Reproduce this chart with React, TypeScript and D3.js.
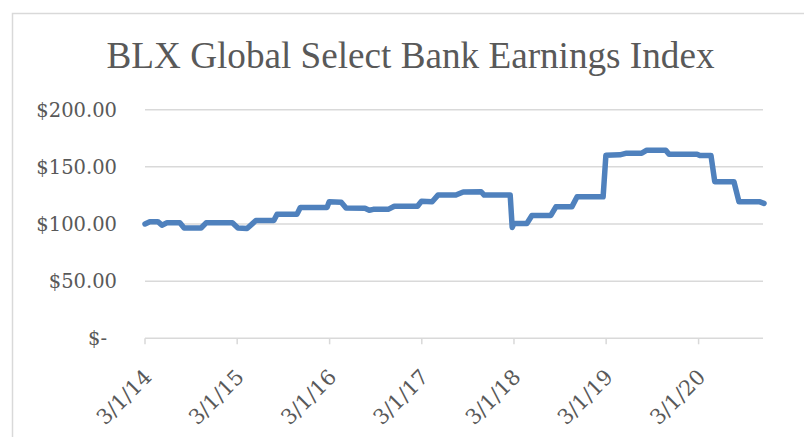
import React from "react";
import * as d3 from "d3";

const title = "BLX Global Select Bank Earnings Index";

const dates = [
  "2014-03-01", "2014-03-20", "2014-04-21", "2014-05-07", "2014-05-27", "2014-07-17",
  "2014-08-03", "2014-10-09", "2014-10-29", "2015-02-10", "2015-03-04", "2015-04-09",
  "2015-05-14", "2015-07-24", "2015-08-06", "2015-10-24", "2015-11-06", "2016-02-20",
  "2016-02-28", "2016-04-16", "2016-05-05", "2016-07-19", "2016-08-05", "2016-08-21",
  "2016-10-19", "2016-11-12", "2017-02-12", "2017-02-28", "2017-04-11", "2017-05-04",
  "2017-07-14", "2017-08-12", "2017-10-22", "2017-11-03", "2018-02-14", "2018-02-22",
  "2018-03-01", "2018-04-21", "2018-05-11", "2018-07-25", "2018-08-14", "2018-10-16",
  "2018-11-06", "2019-02-17", "2019-02-28", "2019-04-24", "2019-05-21", "2019-07-20",
  "2019-08-09", "2019-10-23", "2019-11-05", "2020-02-24", "2020-03-06", "2020-04-19",
  "2020-05-04", "2020-07-19", "2020-08-08", "2020-10-30", "2020-11-15",
];

const values = [
  100, 102, 102, 99, 101, 101,
  96.5, 96.5, 101, 101, 96.5, 96,
  103, 103, 108.6, 108.6, 114.5, 114.5,
  119.4, 119, 114, 113.8, 112, 112.8,
  112.8, 115.5, 115.5, 120, 119.5, 125.3,
  125.3, 128, 128.2, 125.3, 125.3, 97,
  100.5, 100.5, 107.5, 107.5, 115, 115,
  123.8, 123.8, 160.2, 160.5, 162, 162,
  164.6, 164.6, 161.1, 161.1, 160, 160,
  137, 137, 119.4, 119.4, 118,
];

const yTicks = [0, 50, 100, 150, 200];
const yTickLabels = ["$-", "$50.00", "$100.00", "$150.00", "$200.00"];
const xTickDates = ["2014-03-01", "2015-03-01", "2016-03-01", "2017-03-01", "2018-03-01", "2019-03-01", "2020-03-01"];
const xTickLabels = ["3/1/14", "3/1/15", "3/1/16", "3/1/17", "3/1/18", "3/1/19", "3/1/20"];

const W = 804;
const H = 437;
const left = 145;
const right = 764;
const top = 109.7;
const bottom = 338.3;

export default function App() {
  const parse = d3.timeParse("%Y-%m-%d");
  const data = dates.map((d, i) => ({ date: parse(d) as Date, value: values[i] }));
  const x = d3
    .scaleTime()
    .domain([parse(dates[0]) as Date, parse(dates[dates.length - 1]) as Date])
    .range([left, right]);
  const y = d3.scaleLinear().domain([0, 200]).range([bottom, top]);
  const line = d3
    .line<{ date: Date; value: number }>()
    .x((d) => x(d.date))
    .y((d) => y(d.value));

  const textColor = "#595959";
  const gridColor = "#d9d9d9";

  return (
    <svg
      width={W}
      height={H}
      style={{ position: "absolute", left: 0, top: 0, background: "#fff" }}
    >
      <rect x={12.5} y={13.5} width={900} height={500} fill="#fff" stroke={gridColor} strokeWidth={1.5} />
      <text
        x={106.5}
        y={68.3}
        fontFamily="'Liberation Serif', serif"
        fontSize={38}
        fill={textColor}
        textLength={608}
        lengthAdjust="spacingAndGlyphs"
      >
        {title}
      </text>
      {yTicks.map((t, i) => (
        <g key={t}>
          <line x1={left} x2={763} y1={y(t)} y2={y(t)} stroke={gridColor} strokeWidth={1.5} />
          <text
            x={t === 0 ? 107 : 117}
            y={y(t)}
            dy="0.36em"
            textAnchor="end"
            fontFamily="'DejaVu Serif', serif"
            fontSize={19.5}
            fill={textColor}
          >
            {yTickLabels[i]}
          </text>
        </g>
      ))}
      {xTickDates.map((d, i) => {
        const xx = x(parse(d) as Date);
        return (
          <g key={d}>
            <line x1={xx} x2={xx} y1={bottom} y2={bottom + 6} stroke={gridColor} strokeWidth={1.5} />
            <text
              transform={`translate(${xx + 8},${bottom + 40}) rotate(-45)`}
              textAnchor="end"
              fontFamily="'DejaVu Serif', serif"
              fontSize={21}
              fill={textColor}
            >
              {xTickLabels[i]}
            </text>
          </g>
        );
      })}
      <path
        d={line(data) || ""}
        fill="none"
        stroke="#4f81bd"
        strokeWidth={5.5}
        strokeLinejoin="round"
        strokeLinecap="round"
      />
    </svg>
  );
}
